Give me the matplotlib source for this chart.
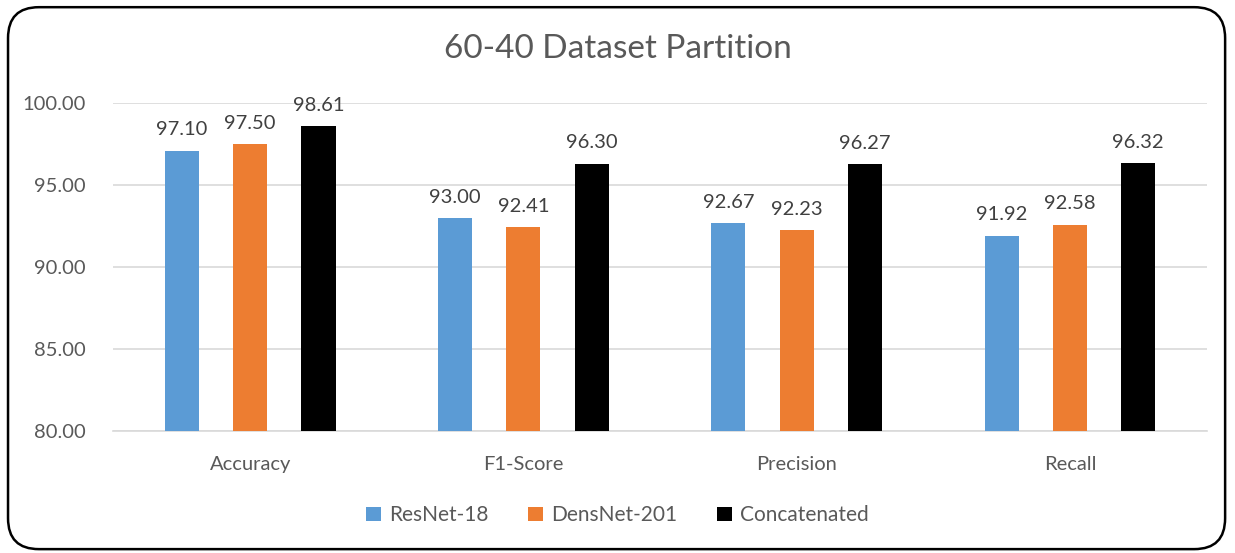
import numpy as np
import matplotlib; matplotlib.use("Agg")
import matplotlib.pyplot as plt
from matplotlib.patches import FancyBboxPatch

categories = ["Accuracy", "F1-Score", "Precision", "Recall"]
series = ["ResNet-18", "DensNet-201", "Concatenated"]
resnet = [97.10, 93.00, 92.67, 91.92]
densnet = [97.50, 92.41, 92.23, 92.58]
concat = [98.61, 96.30, 96.27, 96.32]
yticks = [80, 85, 90, 95, 100]

COLS = ["#5B9BD5", "#ED7D31", "#000000"]
TXT = "#595959"
plt.rcParams["font.family"] = ["Lato", "DejaVu Sans"]

fig = plt.figure(figsize=(12.35, 5.53), dpi=100)
ax = fig.add_axes([0.0919, 0.2206, 0.8851, 0.5931])

x = np.arange(len(categories))
w = 0.125
for i, (vals, name) in enumerate(zip([resnet, densnet, concat], series)):
    pos = x + (i - 1) * 0.25
    bars = ax.bar(pos, vals, width=w, color=COLS[i], label=name, zorder=3)
    for b, v in zip(bars, vals):
        ax.text(b.get_x() + w / 2, v + 0.75, f"{v:.2f}", ha="center", va="bottom",
                fontsize=14.5, color="#404040")

ax.set_xlim(-0.5, len(categories) - 0.5)
ax.set_ylim(80, 100)
ax.set_yticks(yticks)
ax.set_yticklabels([f"{t:.2f}" for t in yticks])
ax.set_xticks(x)
ax.set_xticklabels(categories)
ax.tick_params(length=0, labelsize=14.5, colors=TXT)
ax.tick_params(axis="x", pad=18)
ax.tick_params(axis="y", pad=20)
ax.grid(axis="y", color="#D9D9D9", lw=1.2, zorder=0)
for s in ["top", "right", "left"]:
    ax.spines[s].set_visible(False)
ax.spines["bottom"].set_color("#D9D9D9")
ax.spines["bottom"].set_linewidth(1.2)

fig.text(0.5, 0.912, "60-40 Dataset Partition", ha="center", va="center",
         fontsize=24, color=TXT)
leg = fig.legend(loc="center", bbox_to_anchor=(0.5, 0.068), ncol=3, frameon=False,
                 fontsize=15, handlelength=0.7, handleheight=0.7, columnspacing=1.9,
                 handletextpad=0.4)
for t in leg.get_texts():
    t.set_color(TXT)

border = FancyBboxPatch((0.0065, 0.007), 0.9855, 0.98, boxstyle="round,pad=0,rounding_size=0.025",
                        transform=fig.transFigure, fill=False, ec="black", lw=1.8,
                        mutation_aspect=12.35 / 5.53)
fig.patches.append(border)

fig.savefig("out.png", dpi=100)
